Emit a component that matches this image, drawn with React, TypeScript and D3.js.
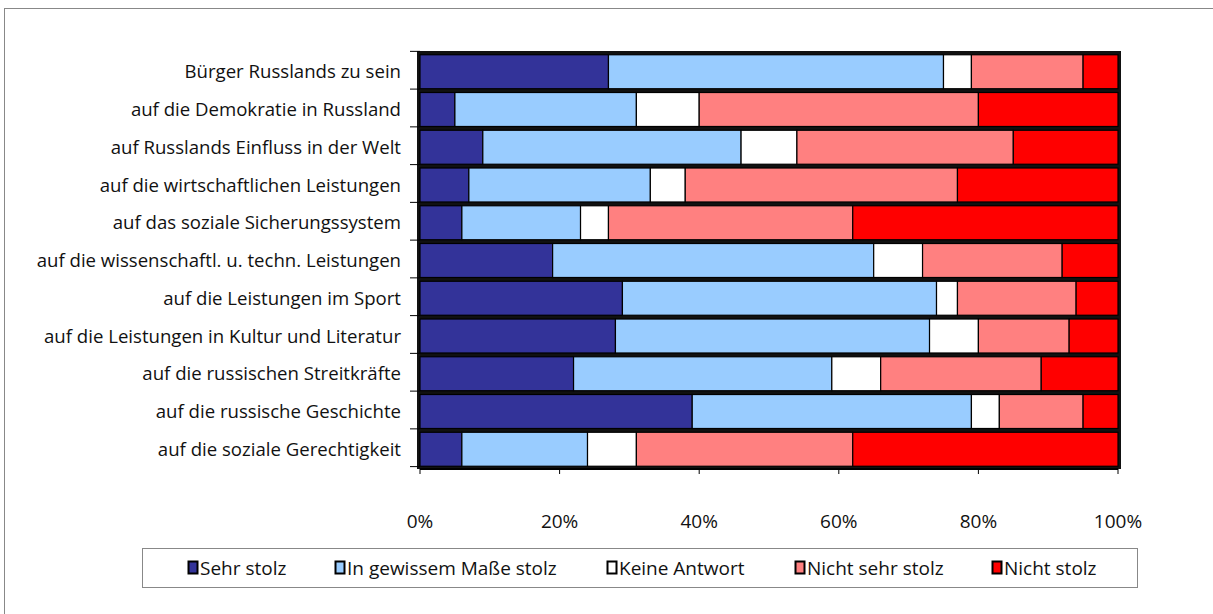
import * as d3 from 'd3';
import * as React from 'react';

const { useEffect } = React;

const width = 1213;
const height = 614;
const margin = { top: 54, right: 95, bottom: 147, left: 420 };

const categories = [
  'Bürger Russlands zu sein',
  'auf die Demokratie in Russland',
  'auf Russlands Einfluss in der Welt',
  'auf die wirtschaftlichen Leistungen',
  'auf das soziale Sicherungssystem',
  'auf die wissenschaftl. u. techn. Leistungen',
  'auf die Leistungen im Sport',
  'auf die Leistungen in Kultur und Literatur',
  'auf die russischen Streitkräfte',
  'auf die russische Geschichte',
  'auf die soziale Gerechtigkeit',
];

const seriesNames = [
  'Sehr stolz',
  'In gewissem Maße stolz',
  'Keine Antwort',
  'Nicht sehr stolz',
  'Nicht stolz',
];

const sehrStolz = [27, 5, 9, 7, 6, 19, 29, 28, 22, 39, 6];
const gewissemMasse = [48, 26, 37, 26, 17, 46, 45, 45, 37, 40, 18];
const keineAntwort = [4, 9, 8, 5, 4, 7, 3, 7, 7, 4, 7];
const nichtSehrStolz = [16, 40, 31, 39, 35, 20, 17, 13, 23, 12, 31];
const nichtStolz = [5, 20, 15, 23, 38, 8, 6, 7, 11, 5, 38];

const xTicks = [0, 0.2, 0.4, 0.6, 0.8, 1];
const colors = ['#333399', '#99CCFF', '#FFFFFF', '#FF8080', '#FF0000'];

const font = '"Open Sans", sans-serif';

export default function App() {
  useEffect(() => {
    document.body.style.margin = '0';
  }, []);

  const seriesValues = [sehrStolz, gewissemMasse, keineAntwort, nichtSehrStolz, nichtStolz];
  const table = categories.map((c, i) => {
    const row: any = { cat: c };
    seriesNames.forEach((s, j) => (row[s] = seriesValues[j][i]));
    return row;
  });
  const stacked = d3.stack<any>().keys(seriesNames).offset(d3.stackOffsetExpand)(table);

  const x = d3.scaleLinear().domain([0, 1]).range([margin.left, width - margin.right]);
  const y = d3
    .scaleBand()
    .domain(categories)
    .range([margin.top, height - margin.bottom])
    .paddingInner(0.1)
    .paddingOuter(0.02);
  const step = y.step();
  const plotTop = margin.top - 3;
  const plotBottom = height - margin.bottom + 2;

  const legendX = [188, 335, 607, 795, 992];

  return (
    <svg width={width} height={height} style={{ display: 'block', fontFamily: font }}>
      <rect x={4.5} y={8.5} width={1230} height={630} fill="#fff" stroke="#888" />
      <rect
        x={margin.left - 3}
        y={plotTop}
        width={x(1) - margin.left + 6}
        height={plotBottom - plotTop}
        fill="#111"
      />
      {stacked.map((s, j) => (
        <g key={s.key} fill={colors[j]}>
          {s.map((d, i) => (
            <rect
              key={i}
              x={x(d[0])}
              y={y(categories[i])}
              width={x(d[1]) - x(d[0])}
              height={y.bandwidth()}
              stroke="#000"
              strokeWidth={1.2}
            />
          ))}
        </g>
      ))}
      {/* y ticks */}
      {d3.range(categories.length + 1).map(i => {
        const yy = margin.top - step * 0.07 + i * step;
        return <line key={i} x1={margin.left - 10} x2={margin.left} y1={yy} y2={yy} stroke="#000" />;
      })}
      {categories.map(c => (
        <text
          key={c}
          x={margin.left - 19}
          y={(y(c) as number) + y.bandwidth() / 2}
          dy="0.35em"
          textAnchor="end"
          fontSize={18.6}
          fill="#111"
        >
          {c}
        </text>
      ))}
      {/* x axis */}
      <line x1={margin.left} x2={x(1)} y1={plotBottom} y2={plotBottom} stroke="#000" strokeWidth={2} />
      {xTicks.map(t => (
        <g key={t}>
          <line x1={x(t)} x2={x(t)} y1={plotBottom} y2={plotBottom + 5} stroke="#000" />
          <text x={x(t)} y={521} dy="0.35em" textAnchor="middle" fontSize={19} fill="#111">
            {d3.format('.0%')(t)}
          </text>
        </g>
      ))}
      {/* legend */}
      <rect x={142.5} y={548.5} width={995} height={39} fill="#fff" stroke="#888" />
      {seriesNames.map((s, j) => (
        <g key={s} transform={`translate(${legendX[j]},568)`}>
          <rect x={0.5} y={-6.5} width={9} height={12} fill={colors[j]} stroke="#000" strokeWidth={2} />
          <text x={12} dy="0.35em" fontSize={19} fill="#111">
            {s}
          </text>
        </g>
      ))}
    </svg>
  );
}
